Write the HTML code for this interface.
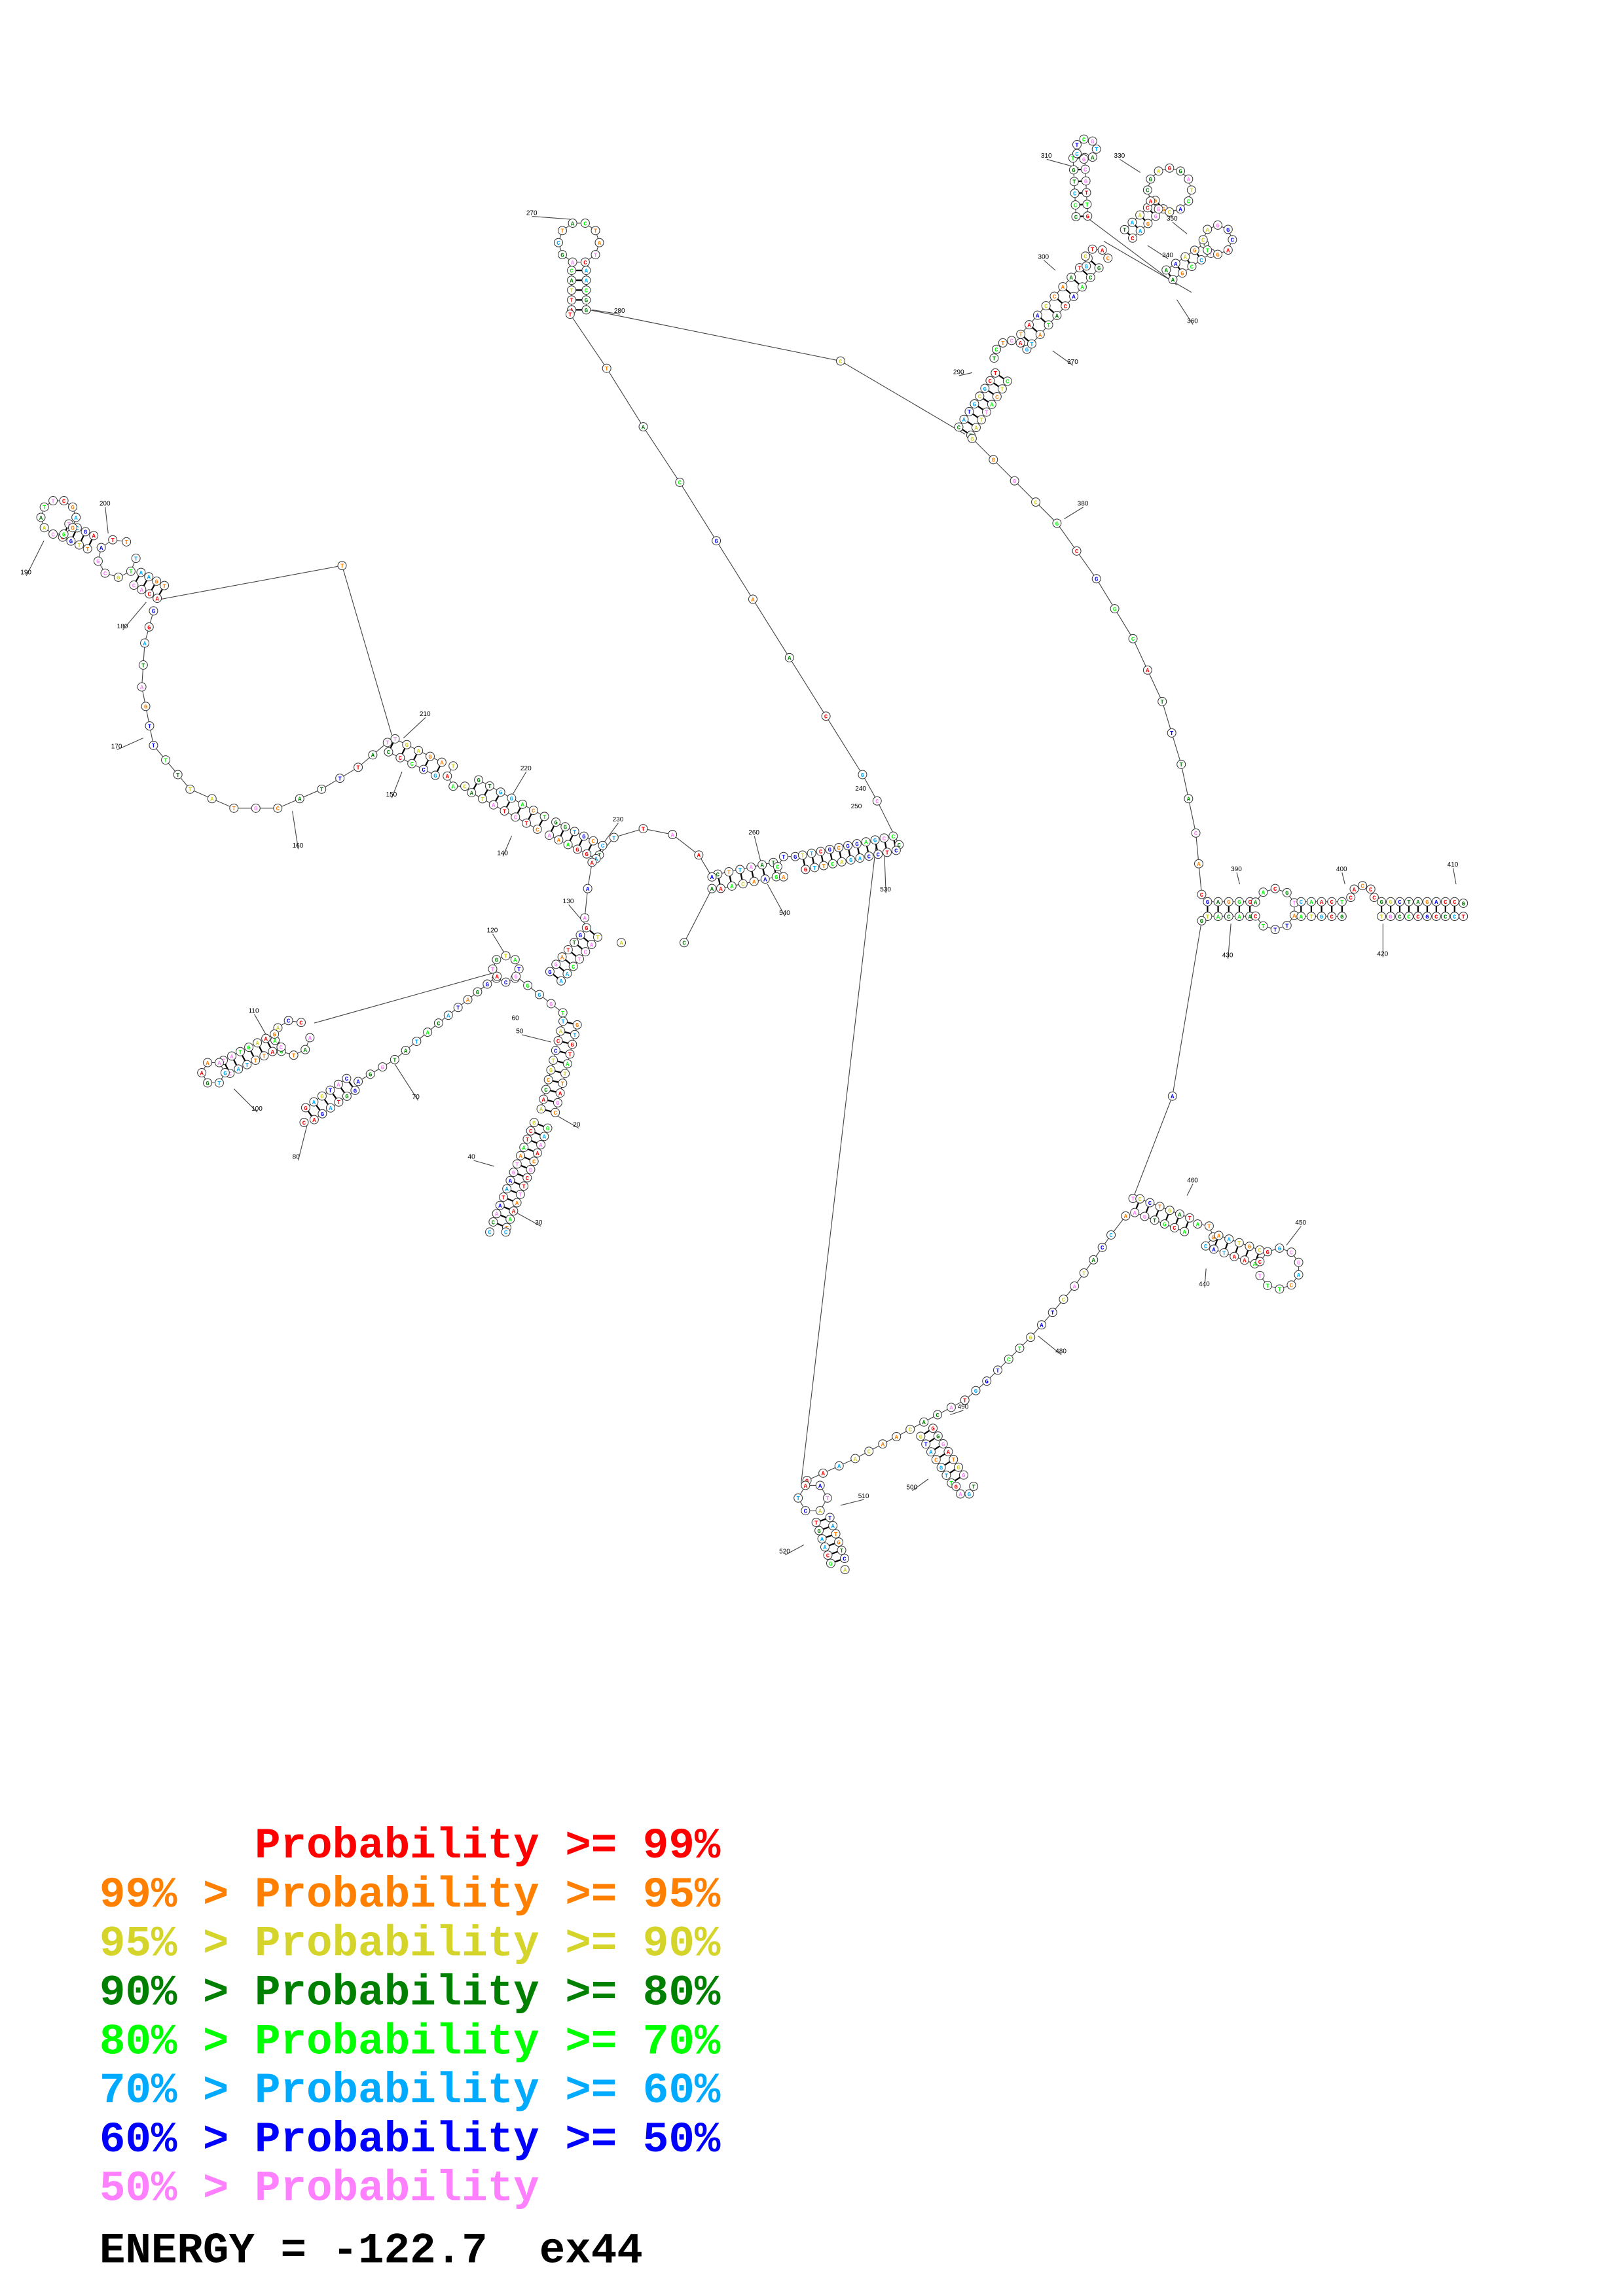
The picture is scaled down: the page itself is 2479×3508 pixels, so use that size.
<!DOCTYPE html>
<html><head><meta charset="utf-8">
<style>html,body{margin:0;padding:0;background:#fff}svg{display:block}</style></head>
<body>
<svg id="s" width="2479" height="3508" viewBox="0 0 1110.2 1571" xmlns="http://www.w3.org/2000/svg">
<g id="lines" stroke="#444" stroke-width="0.5" fill="none"></g>
<g id="rungs" stroke="#000" stroke-width="1"></g>
<g id="nodes"></g>
<g id="labels" font-family="Liberation Sans, sans-serif" font-size="4.5" fill="#000"></g>
<g font-family="Liberation Mono, monospace" font-weight="bold" font-size="29.5">
<text x="68" y="1271" fill="#ff0000" xml:space="preserve">      Probability &gt;= 99%</text>
<text x="68" y="1304.5" fill="#ff8000" xml:space="preserve">99% &gt; Probability &gt;= 95%</text>
<text x="68" y="1338" fill="#d4d42a" xml:space="preserve">95% &gt; Probability &gt;= 90%</text>
<text x="68" y="1371.5" fill="#008000" xml:space="preserve">90% &gt; Probability &gt;= 80%</text>
<text x="68" y="1405" fill="#00ff00" xml:space="preserve">80% &gt; Probability &gt;= 70%</text>
<text x="68" y="1438.5" fill="#00aaff" xml:space="preserve">70% &gt; Probability &gt;= 60%</text>
<text x="68" y="1472" fill="#0000ff" xml:space="preserve">60% &gt; Probability &gt;= 50%</text>
<text x="68" y="1505.5" fill="#ff80ff" xml:space="preserve">50% &gt; Probability</text>
<text x="68" y="1548" fill="#000" xml:space="preserve">ENERGY = -122.7  ex44</text>
</g>
</svg>
<script>
var NS="http://www.w3.org/2000/svg";
var L=document.getElementById('lines'),R=document.getElementById('rungs'),N=document.getElementById('nodes'),T=document.getElementById('labels');
var cols=["#ff0000","#ff8000","#d4d42a","#008000","#00ff00","#00aaff","#0000ff","#ff80ff"];
var letters="ACGT";var seed=7;function rnd(){seed=(seed*9301+49297)%233280;return seed/233280;}
function el(p,t,a){var e=document.createElementNS(NS,t);for(var k in a)e.setAttribute(k,a[k]);p.appendChild(e);return e;}
function node(x,y){el(N,'circle',{cx:x,cy:y,r:2.9,fill:'#fff',stroke:'#333','stroke-width':0.45});
 var t=el(N,'text',{x:x,y:y+1.5,'font-size':4,'text-anchor':'middle','font-family':'Liberation Mono, monospace','font-weight':'bold',fill:cols[Math.floor(rnd()*8)]});t.textContent=letters[Math.floor(rnd()*4)];}
function line(pts){el(L,'polyline',{points:pts.map(function(p){return p.join(',')}).join(' ')});}
function chain(pts,sp){line(pts);sp=sp||8;for(var i=0;i<pts.length-1;i++){var a=pts[i],b=pts[i+1],d=Math.hypot(b[0]-a[0],b[1]-a[1]),n=Math.max(1,Math.round(d/sp));for(var j=(i==0?0:1);j<=n;j++){node(a[0]+(b[0]-a[0])*j/n,a[1]+(b[1]-a[1])*j/n);}}}
function pts(list){list.forEach(function(p){node(p[0],p[1])});}
function stem(a,b,n,w){w=w||5;var dx=b[0]-a[0],dy=b[1]-a[1],d=Math.hypot(dx,dy),px=-dy/d*w,py=dx/d*w;
 line([[a[0]+px,a[1]+py],[b[0]+px,b[1]+py]]);line([[a[0]-px,a[1]-py],[b[0]-px,b[1]-py]]);
 for(var i=0;i<n;i++){var t=n==1?0:i/(n-1),x=a[0]+dx*t,y=a[1]+dy*t;el(R,'line',{x1:x+px*0.5,y1:y+py*0.5,x2:x-px*0.5,y2:y-py*0.5});node(x+px,y+py);node(x-px,y-py);}}
function loop(cx,cy,r,n,a0,a1){a0=a0||0;a1=a1||360;var p=[];for(var i=0;i<n;i++){var a=(a0+(a1-a0)*i/(n-(a1-a0==360?0:1)))*Math.PI/180;p.push([cx+r*Math.cos(a),cy+r*Math.sin(a)]);}
 if(a1-a0==360)p.push(p[0]);line(p);pts(a1-a0==360?p.slice(0,-1):p);}
function lab(x,y,s,x2,y2){var t=el(T,'text',{x:x,y:y});t.textContent=s;if(x2!==undefined)el(L,'line',{x1:x+4,y1:y+1,x2:x2,y2:y2});}

stem([396,212],[396,185],5,5);loop(396,166,14,10);lab(360,147,"270",390,150);lab(420,214,"280",405,212);
line([[403,212],[575,247],[660,297]]);node(575,247);
chain([[390,215],[415,252],[440,292],[465,330],[490,370],[515,410],[540,450],[565,490],[590,530],[600,548],[615,578]],40);
lab(585,541,"240");lab(582,553,"250");
stem([660,295],[685,258],8,5);loop(692,245,12,6,180,330);stem([702,232],[748,180],9,5);loop(750,178,8,5,150,350);
stem([740,148],[738,108],6,4);loop(743,102,7,7);
stem([772,160],[793,140],5,4);loop(800,130,15,12);stem([800,188],[826,170],5,4);loop(833,164,10,8);
line([[755,165],[815,200]]);line([[745,150],[805,195]]);
lab(712,108,"310",738,115);lab(762,108,"330",780,118);lab(798,151,"350",812,160);lab(795,176,"340",785,168);
lab(812,221,"360",805,205);lab(710,177,"300",722,185);lab(730,249,"370",720,240);lab(652,256,"290",665,255);
chain([[665,300],[723,358],[750,396],[775,437],[795,480],[808,523],[818,570],[822,612]],22);lab(737,346,"380",728,355);
stem([826,622],[855,622],5,5);loop(872,622,14,10,200,520);stem([890,622],[918,622],5,5);loop(932,614,8,5,180,360);stem([945,622],[995,622],9,5);node(1001,618);node(1001,627);
lab(842,596,"390",848,605);lab(914,596,"400",920,605);lab(990,593,"410",996,605);lab(942,654,"420",946,632);lab(836,655,"430",842,632);
chain([[822,630],[802,750],[775,820]],200);
stem([778,825],[812,838],6,5);loop(822,845,8,4,250,430);stem([832,850],[860,860],5,5);loop(875,868,14,10,200,520);
lab(812,809,"460",812,818);lab(820,880,"440",825,868);lab(886,838,"450",880,852);
chain([[770,832],[760,845],[748,862],[735,880],[720,898],[705,915],[690,930],[675,945],[660,958],[632,973],[585,998],[552,1013]],11);
lab(722,926,"480",710,914);lab(655,964,"490",650,968);
stem([634,980],[655,1012],7,5);loop(660,1017,6,4,0,180);lab(620,1019,"500",635,1012);
loop(556,1025,10,6);stem([563,1040],[573,1068],6,5);node(578,1074);
lab(587,1025,"510",575,1030);lab(533,1063,"520",550,1057);
line([[548,1015],[600,572]]);
stem([492,603],[530,595],6,5);loop(540,593,8,4,120,300);stem([550,590],[612,577],11,5);
lab(512,571,"260",522,596);lab(533,626,"540",525,605);lab(602,610,"530",605,585);
chain([[487,608],[468,645]],40);
chain([[410,585],[420,573],[440,567],[460,571],[478,585],[487,600]],18);lab(419,562,"230",412,578);
stem([268,510],[300,526],5,5);loop(314,531,8,4,60,240);stem([325,538],[370,563],7,5);stem([378,567],[410,583],6,5);
lab(287,490,"210",276,505);lab(264,545,"150",275,528);lab(356,527,"220",348,548);lab(340,585,"140",350,572);
chain([[265,508],[245,525],[220,540],[190,553],[160,553],[130,540],[105,510],[97,470],[99,440],[105,418]],14);
lab(76,512,"170",98,505);lab(200,580,"160",200,555);lab(80,430,"180",100,412);
line([[110,410],[234,387],[268,503]]);node(234,387);
stem([110,405],[94,396],4,5);loop(80,382,13,8,0,300);stem([62,371],[45,363],4,5);loop(40,354,12,10);
lab(68,346,"200",74,365);lab(14,393,"190",30,370);
chain([[405,590],[402,608],[400,628]],18);node(425,645);
stem([405,638],[380,668],7,5);loop(346,663,9,8);lab(333,638,"120",345,652);lab(385,618,"130",400,632);
line([[340,665],[215,700]]);
loop(200,710,12,8,0,300);stem([190,712],[155,730],7,5);loop(146,734,8,6);lab(170,693,"110",182,708);lab(172,760,"100",160,745);
chain([[340,668],[300,700],[270,725],[245,740]],9);stem([240,742],[212,762],6,5);node(208,768);lab(200,793,"80",210,770);lab(282,752,"70",270,728);
chain([[353,668],[385,693]],10);lab(350,698,"60");lab(353,707,"50",377,713);
stem([390,700],[375,760],10,5);stem([370,770],[342,838],13,5);node(335,843);node(346,843);
lab(392,771,"20",375,760);lab(366,838,"30",350,828);lab(320,793,"40",338,798);
</script>
</body></html>
